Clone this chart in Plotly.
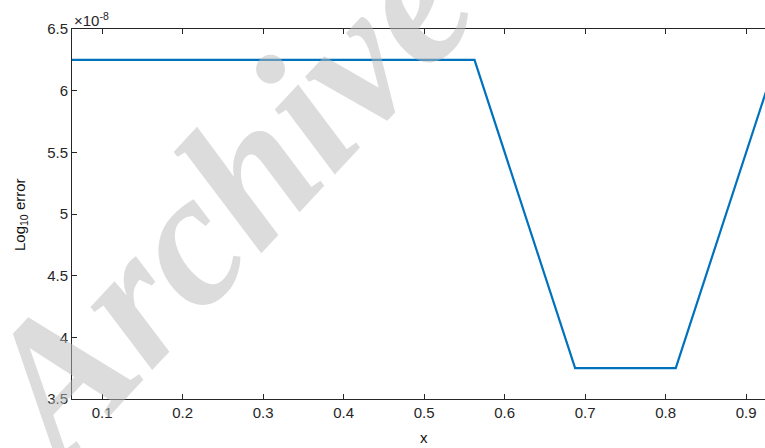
import plotly.graph_objects as go

# Error per sample point (values are in units of 1e-8 scale shown on the axis)
x_vals = [0.0625, 0.1875, 0.3125, 0.4375, 0.5625, 0.6875, 0.8125, 0.9375]
err_vals = [6.25e-8, 6.25e-8, 6.25e-8, 6.25e-8, 6.25e-8, 3.75e-8, 3.75e-8, 6.25e-8]

x_ticks = [0.1, 0.2, 0.3, 0.4, 0.5, 0.6, 0.7, 0.8, 0.9]
y_tick_labels = ["3.5", "4", "4.5", "5", "5.5", "6", "6.5"]
y_ticks = [float(t) * 1e-8 for t in y_tick_labels]

W, H = 765, 448
L, T, B = 72, 29, 49
plot_w = W - L
plot_h = H - T - B

axis_col = "#262626"
font_fam = "Liberation Sans, Arial, sans-serif"

fig = go.Figure()
fig.add_trace(go.Scatter(
    x=x_vals, y=err_vals, mode="lines",
    line=dict(color="#0072BD", width=2.2),
    showlegend=False, hoverinfo="skip",
))

# px per x unit ~805; the visible window ends before the last sample
x_end = 0.0625 + plot_w / 805.0

fig.update_layout(
    width=W, height=H,
    margin=dict(l=L, r=0, t=T, b=B),
    paper_bgcolor="white", plot_bgcolor="white",
    font=dict(family=font_fam, size=15, color=axis_col),
    xaxis=dict(
        range=[0.0625, x_end], tickvals=x_ticks,
        ticktext=[f"{v:g}" for v in x_ticks],
        showgrid=False, zeroline=False,
        showline=True, linecolor=axis_col, linewidth=1,
        ticks="inside", ticklen=5, tickcolor=axis_col, tickwidth=1,
        mirror="ticks",
        tickfont=dict(size=15, color=axis_col),
    ),
    yaxis=dict(
        range=[3.5e-8, 6.5e-8], tickvals=y_ticks, ticktext=y_tick_labels,
        showgrid=False, zeroline=False,
        showline=True, linecolor=axis_col, linewidth=1,
        ticks="inside", ticklen=5, tickcolor=axis_col, tickwidth=1,
        tickfont=dict(size=15, color=axis_col),
    ),
)

# Shared exponent above the y axis
fig.add_annotation(
    xref="paper", yref="paper", x=0.0, y=1.0, xanchor="left", yanchor="bottom",
    text="×10<sup>-8</sup>", showarrow=False, yshift=-2,
    font=dict(size=15, color=axis_col, family=font_fam),
)

# Axis titles
fig.add_annotation(
    xref="paper", yref="paper", x=(20 - L) / plot_w, y=(H - B - 215) / plot_h,
    xanchor="center", yanchor="middle",
    text="Log<sub>10</sub> error", textangle=-90, showarrow=False,
    font=dict(size=15, color="#111111", family=font_fam),
)
fig.add_annotation(
    xref="x", yref="paper", x=0.5, y=(H - B - 437) / plot_h,
    xanchor="center", yanchor="middle",
    text="x", showarrow=False,
    font=dict(size=15, color="#111111", family=font_fam),
)

# Watermark
fig.add_annotation(
    xref="paper", yref="paper", x=(222 - L) / plot_w, y=(H - B - 200) / plot_h,
    xanchor="center", yanchor="middle",
    text="<b><i>Archive</i></b>", textangle=-47, showarrow=False,
    font=dict(size=192, color="rgba(185,185,185,0.5)",
              family="Liberation Serif, Times New Roman, serif"),
)

fig.write_html("out.html")
